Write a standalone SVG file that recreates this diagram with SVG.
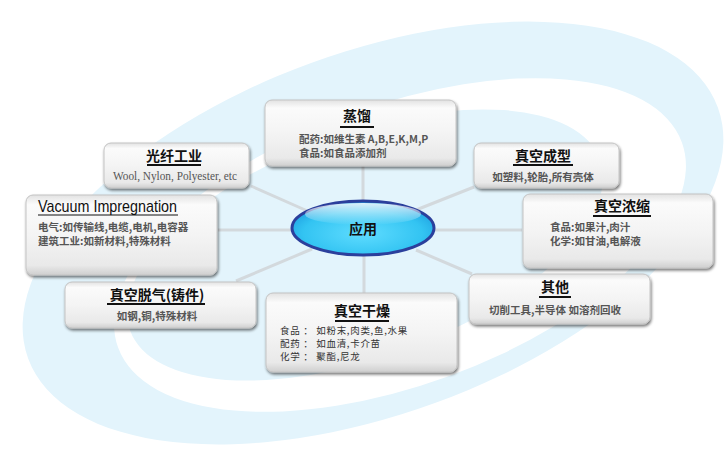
<svg xmlns="http://www.w3.org/2000/svg" width="728" height="471" viewBox="0 0 728 471">
<defs>
<linearGradient id="boxg" x1="0" y1="0" x2="0" y2="1">
<stop offset="0" stop-color="#e2e2e2"/>
<stop offset="0.12" stop-color="#fbfbfb"/>
<stop offset="0.5" stop-color="#f4f4f4"/>
<stop offset="0.88" stop-color="#e9e9e9"/>
<stop offset="1" stop-color="#cfcfcf"/>
</linearGradient>
<radialGradient id="ellg" cx="0.5" cy="0.6" r="0.6">
<stop offset="0" stop-color="#5fdcff"/>
<stop offset="0.7" stop-color="#33c4f2"/>
<stop offset="1" stop-color="#1d9fe0"/>
</radialGradient>
<linearGradient id="hl" x1="0" y1="0" x2="0" y2="1">
<stop offset="0" stop-color="#ffffff" stop-opacity="0.85"/>
<stop offset="1" stop-color="#ffffff" stop-opacity="0"/>
</linearGradient>
<filter id="sh" x="-10%" y="-10%" width="120%" height="130%">
<feGaussianBlur in="SourceAlpha" stdDeviation="1.5"/>
<feOffset dx="1" dy="2" result="o"/>
<feComponentTransfer><feFuncA type="linear" slope="0.55"/></feComponentTransfer>
<feMerge><feMergeNode/><feMergeNode in="SourceGraphic"/></feMerge>
</filter>
</defs>
<style>
.box{fill:url(#boxg);stroke:#c4c4c4;stroke-width:1;filter:url(#sh)}
.t{font-family:"Noto Sans CJK SC","Noto Sans",sans-serif;font-size:14px;font-weight:bold;fill:#111;text-anchor:middle}
.b{font-family:"Noto Sans CJK SC","Noto Sans",sans-serif;font-size:10.5px;fill:#555;font-weight:bold}
.s{font-family:"Noto Sans CJK SC","Noto Sans",sans-serif;font-size:9.5px;fill:#333;letter-spacing:0.7px}
.bc{text-anchor:middle}
.ul{stroke:#111;stroke-width:2}
.c{stroke:#d3d9dd;stroke-width:3;fill:none}
</style>
<rect width="728" height="471" fill="#ffffff"/>
<g id="background">
<ellipse cx="373" cy="233" rx="367" ry="181" transform="rotate(-20 373 233)" fill="#e3f4fc"/>
<ellipse cx="400" cy="245" rx="300" ry="140" transform="rotate(-20 400 245)" fill="#ffffff"/>
<ellipse cx="365" cy="245" rx="250" ry="112" transform="rotate(-20 365 245)" fill="#e3f4fc"/>
</g>
<g id="connectors">
<line class="c" x1="363" y1="166" x2="363" y2="202"/>
<line class="c" x1="251" y1="186" x2="312" y2="213"/>
<line class="c" x1="218" y1="230" x2="292" y2="230"/>
<line class="c" x1="236" y1="281" x2="312" y2="249"/>
<line class="c" x1="364" y1="256" x2="364" y2="294"/>
<line class="c" x1="416" y1="250" x2="472" y2="274"/>
<line class="c" x1="435" y1="230" x2="522" y2="230"/>
<line class="c" x1="416" y1="210" x2="474" y2="187"/>
</g>
<g id="n-zhengliu">
<rect class="box" x="265" y="100" width="191" height="66" rx="7"/>
<text class="t" x="357" y="121">蒸馏</text>
<line class="ul" x1="340" y1="127" x2="374" y2="127"/>
<text class="b" x="299" y="143">配药:如维生素 A,B,E,K,M,P</text>
<text class="b" x="299" y="157">食品:如食品添加剂</text>
</g>
<g id="n-guangxian">
<rect class="box" x="104" y="143" width="145" height="45" rx="7"/>
<text class="t" x="174" y="161">光纤工业</text>
<line class="ul" x1="147" y1="165" x2="201" y2="165"/>
<text x="113" y="180" font-family="Liberation Serif, serif" font-size="12" fill="#555" textLength="124" lengthAdjust="spacingAndGlyphs">Wool, Nylon, Polyester, etc</text>
</g>
<g id="n-vacuum">
<rect class="box" x="26" y="195" width="191" height="80" rx="7"/>
<text x="38" y="212" font-family="Liberation Sans, sans-serif" font-size="17" fill="#111" textLength="139" lengthAdjust="spacingAndGlyphs">Vacuum Impregnation</text>
<line x1="38" y1="215" x2="178" y2="215" stroke="#111" stroke-width="1"/>
<text class="b" x="38" y="231">电气:如传输线,电缆,电机,电容器</text>
<text class="b" x="38" y="245">建筑工业:如新材料,特殊材料</text>
</g>
<g id="n-tuoqi">
<rect class="box" x="65" y="282" width="191" height="46" rx="7"/>
<text class="t" x="157" y="300">真空脱气(铸件)</text>
<line class="ul" x1="107" y1="304" x2="205" y2="304"/>
<text class="b bc" x="157" y="320">如钢,铜,特殊材料</text>
</g>
<g id="n-ganzao">
<rect class="box" x="266" y="293" width="191" height="79" rx="7"/>
<text class="t" x="362" y="316">真空干燥</text>
<line class="ul" x1="335" y1="321" x2="389" y2="321"/>
<text class="s" x="280" y="334">食品 ： 如粉末,肉类,鱼,水果</text>
<text class="s" x="280" y="347">配药 ： 如血清,卡介苗</text>
<text class="s" x="280" y="360">化学 ： 聚酯,尼龙</text>
</g>
<g id="n-chengxing">
<rect class="box" x="474" y="143" width="145" height="45" rx="7"/>
<text class="t" x="543" y="161">真空成型</text>
<line class="ul" x1="513" y1="165" x2="573" y2="165"/>
<text class="b bc" x="543" y="181">如塑料,轮胎,所有壳体</text>
</g>
<g id="n-nongsuo">
<rect class="box" x="523" y="194" width="190" height="74" rx="7"/>
<text class="t" x="622" y="211">真空浓缩</text>
<line class="ul" x1="593" y1="216" x2="651" y2="216"/>
<text class="b" x="550" y="231">食品:如果汁,肉汁</text>
<text class="b" x="550" y="245">化学:如甘油,电解液</text>
</g>
<g id="n-qita">
<rect class="box" x="469" y="274" width="181" height="50" rx="7"/>
<text class="t" x="555" y="292">其他</text>
<line class="ul" x1="539" y1="297" x2="571" y2="297"/>
<text class="b bc" x="555" y="314">切削工具,半导体 如溶剂回收</text>
</g>
<g id="n-yingyong">
<ellipse cx="363" cy="228" rx="71" ry="27" fill="url(#ellg)" stroke="#2b3f9c" stroke-width="3"/>
<ellipse cx="363" cy="214" rx="58" ry="11" fill="url(#hl)"/>
<text class="t" x="363" y="234">应用</text>
</g>
</svg>
